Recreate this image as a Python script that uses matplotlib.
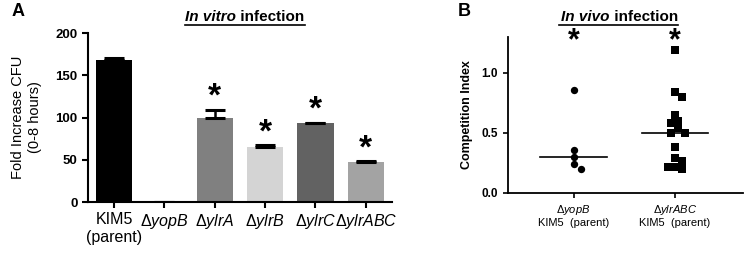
import numpy as np
import matplotlib
matplotlib.use('Agg')
import matplotlib.pyplot as plt

plt.rcParams['font.family'] = ['Liberation Sans', 'DejaVu Sans']
plt.rcParams['mathtext.fontset'] = 'custom'
plt.rcParams['mathtext.rm'] = 'Liberation Sans'
plt.rcParams['mathtext.it'] = 'Liberation Sans:italic'

# panel A data
strains = ['KIM5\n(parent)', r'$\Delta\mathit{yopB}$', r'$\Delta\mathit{ylrA}$',
           r'$\Delta\mathit{ylrB}$', r'$\Delta\mathit{ylrC}$', r'$\Delta\mathit{ylrABC}$']
fold_cfu = [168.5, 0, 99, 65, 93, 47]
fold_err = [2, 0, 10, 2, 1, 1]
signif_a = [False, False, True, True, True, True]
bar_colors = ['#000000', '#ffffff', '#808080', '#d4d4d4', '#626262', '#a3a3a3']

# panel B data
groups = [r'$\Delta\mathit{yopB}$' + '\nKIM5  (parent)',
          r'$\Delta\mathit{ylrABC}$' + '\nKIM5  (parent)']
ci_yopb = [0.86, 0.36, 0.30, 0.24, 0.20]
ci_ylrabc = [1.19, 0.84, 0.80, 0.65, 0.60, 0.58, 0.54, 0.50, 0.50, 0.38,
             0.29, 0.27, 0.22, 0.22, 0.20]


def swarm(values, xscale, yscale, diam, step):
    # simple beeswarm: place each point at the nearest free offset
    placed = []
    offs = []
    for v in values:
        k_order = [0]
        for k in range(1, 20):
            k_order += [k, -k]
        for k in k_order:
            dx = k * step
            ok = True
            for px, py in placed:
                if (dx - px) ** 2 + (v * yscale - py) ** 2 < diam ** 2:
                    ok = False
                    break
            if ok:
                break
        placed.append((dx, v * yscale))
        offs.append(dx / xscale)
    return np.array(offs)


def title(fig, xsplit, y, x0, x1, italic_part):
    fig.text(xsplit, y, italic_part, fontsize=11, fontweight='bold',
             fontstyle='italic', ha='right', va='center')
    fig.text(xsplit, y, ' infection', fontsize=11, fontweight='bold',
             ha='left', va='center')
    fig.add_artist(plt.Line2D([x0, x1], [0.905, 0.905], color='black', lw=1.2))


fig = plt.figure(figsize=(7.48, 2.58), dpi=100)

# ---------- panel A ----------
axA = fig.add_axes([0.1176, 0.217, 0.4064, 0.655])
x = np.arange(len(strains))
axA.bar(x, fold_cfu, width=0.72, color=bar_colors, zorder=2)
axA.errorbar(x, fold_cfu, yerr=[np.zeros(len(x)), fold_err], fmt='none',
             ecolor='black', elinewidth=1.8, capsize=7, capthick=2.2, zorder=3)
for xi, v, e, s in zip(x, fold_cfu, fold_err, signif_a):
    if s:
        axA.annotate('*', (xi, v + e), xytext=(0, -2), textcoords='offset points',
                     ha='center', va='bottom', fontsize=24, fontweight='bold')
axA.set_xlim(-0.52, 5.52)
axA.set_ylim(0, 200)
axA.set_yticks([0, 50, 100, 150, 200])
axA.set_xticks(x)
axA.set_xticklabels(strains, fontsize=11.5)
for lab in axA.get_yticklabels():
    lab.set_fontweight('bold')
    lab.set_fontsize(9.5)
axA.set_ylabel('Fold Increase CFU\n(0-8 hours)', fontsize=10.5, labelpad=10)
axA.spines['top'].set_visible(False)
axA.spines['right'].set_visible(False)
axA.spines['left'].set_linewidth(1.5)
axA.spines['bottom'].set_linewidth(1.5)
axA.tick_params(width=1.5, length=4)

fig.text(0.016, 0.955, 'A', fontsize=13, fontweight='bold', va='center')
title(fig, 0.316, 0.935, 0.247, 0.408, 'In vitro')

# ---------- panel B ----------
axB = fig.add_axes([0.679, 0.252, 0.314, 0.605])
xscale = 101.0
yscale = 120.0
for gi, (vals, mk) in enumerate([(ci_yopb, 'o'), (ci_ylrabc, 's')]):
    offs = swarm(vals, xscale, yscale, 6.8, 3.5)
    axB.scatter(gi + offs, vals, marker=mk, s=28, color='black', zorder=3,
                linewidths=0, clip_on=False)
    med = np.median(vals)
    axB.plot([gi - 0.33, gi + 0.33], [med, med], color='black', lw=1.2)
    axB.text(gi, 1.26, '*', fontsize=22, ha='center', va='center',
             fontweight='bold')
axB.set_xlim(-0.65, 1.67)
axB.set_ylim(0, 1.3)
axB.set_yticks([0.0, 0.5, 1.0])
axB.set_yticklabels(['0.0', '0.5', '1.0'], fontsize=8.5, fontweight='bold')
axB.set_xticks([0, 1])
axB.set_xticklabels(groups, fontsize=8)
axB.set_ylabel('Competition Index', fontsize=9, fontweight='bold', labelpad=6)
axB.spines['top'].set_visible(False)
axB.spines['right'].set_visible(False)
axB.spines['left'].set_linewidth(1.3)
axB.spines['bottom'].set_linewidth(1.3)
axB.tick_params(width=1.2, length=3.5)

fig.text(0.612, 0.955, 'B', fontsize=13, fontweight='bold', va='center')
title(fig, 0.815, 0.935, 0.747, 0.906, 'In vivo')

fig.savefig('out.png', dpi=100)
